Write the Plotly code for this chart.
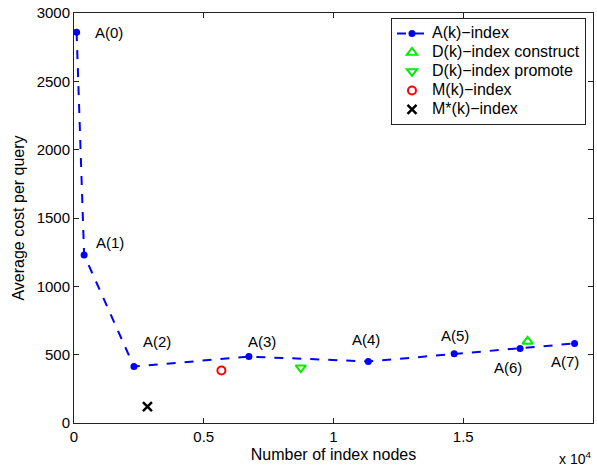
import plotly.graph_objects as go

# Data (x in number of index nodes, y average cost per query)
a_labels = ["A(0)", "A(1)", "A(2)", "A(3)", "A(4)", "A(5)", "A(6)", "A(7)"]
a_x = [100, 390, 2310, 6740, 11340, 14650, 17190, 19290]
a_y = [2860, 1230, 413, 486, 450, 506, 545, 582]

dcon_x = [17480]
dcon_y = [597]
dprom_x = [8740]
dprom_y = [405]
m_x = [5680]
m_y = [384]
mstar_x = [2830]
mstar_y = [120]

series_names = ["A(k)\u2212index", "D(k)\u2212index construct", "D(k)\u2212index promote",
                "M(k)\u2212index", "M*(k)\u2212index"]

x_tickvals = [0, 5000, 10000, 15000, 20000]
x_ticktext = ["0", "0.5", "1", "1.5", "2"]
y_tickvals = [0, 500, 1000, 1500, 2000, 2500, 3000]

FONT = "Liberation Sans, Arial, Helvetica, sans-serif"


def lg(name):
    return '<span style="font-size:16px">' + name + '</span>'


fig = go.Figure()
fig.add_trace(go.Scatter(x=a_x, y=a_y, mode="lines+markers", name=lg(series_names[0]),
                         line=dict(color="#0000ff", width=2, dash="dash"),
                         marker=dict(color="#0000ff", size=7, symbol="circle")))
fig.add_trace(go.Scatter(x=dcon_x, y=dcon_y, mode="markers", name=lg(series_names[1]),
                         marker=dict(color="#00ee00", size=9, symbol="triangle-up-open",
                                     line=dict(width=2, color="#00ee00"))))
fig.add_trace(go.Scatter(x=dprom_x, y=dprom_y, mode="markers", name=lg(series_names[2]),
                         marker=dict(color="#00ee00", size=9, symbol="triangle-down-open",
                                     line=dict(width=2, color="#00ee00"))))
fig.add_trace(go.Scatter(x=m_x, y=m_y, mode="markers", name=lg(series_names[3]),
                         marker=dict(color="#ff0000", size=8, symbol="circle-open",
                                     line=dict(width=2, color="#ff0000"))))
fig.add_trace(go.Scatter(x=mstar_x, y=mstar_y, mode="markers", name=lg(series_names[4]),
                         marker=dict(color="#000000", size=9, symbol="x-thin-open",
                                     line=dict(width=2.5, color="#000000"))))

# label offsets (pixels) for each A(k) point
offsets = [(32, 0), (26, 12), (23, 25), (13, 15), (-2, 22), (1, 18), (-12, -19), (-10, -18)]
for lab, x, y, (dx, dy) in zip(a_labels, a_x, a_y, offsets):
    fig.add_annotation(x=x, y=y, text=lab, showarrow=False, xshift=dx, yshift=dy,
                       xanchor="center", yanchor="middle",
                       font=dict(family=FONT, size=15, color="black"))

fig.add_annotation(xref="paper", yref="paper", x=1.0, y=-0.112, xanchor="right",
                   text="x 10<sup>4</sup>",
                   showarrow=False, font=dict(family=FONT, size=14, color="black"))

axis_common = dict(showgrid=False, zeroline=False, showline=True, linecolor="#222",
                   linewidth=1, mirror="ticks", ticks="inside", ticklen=5, tickcolor="#222",
                   tickfont=dict(family=FONT, size=15, color="black"))

fig.update_xaxes(range=[0, 20000], tickvals=x_tickvals, ticktext=x_ticktext,
                 title=dict(text="Number of index nodes", standoff=4,
                            font=dict(family=FONT, size=16, color="black")),
                 **axis_common)
fig.update_yaxes(range=[0, 3000], tickvals=y_tickvals,
                 title=dict(text="Average cost per query", standoff=8,
                            font=dict(family=FONT, size=16, color="black")),
                 **axis_common)

fig.update_layout(
    width=597, height=467,
    margin=dict(l=74, r=4, t=13, b=44),
    plot_bgcolor="white", paper_bgcolor="white",
    font=dict(family=FONT, size=15, color="black"),
    legend=dict(x=0.9865, y=0.988, xanchor="right", yanchor="top",
                bgcolor="white", bordercolor="#222", borderwidth=1,
                font=dict(family=FONT, size=12, color="black"),
                tracegroupgap=0, itemwidth=30),
)

fig.write_html("out.html")
